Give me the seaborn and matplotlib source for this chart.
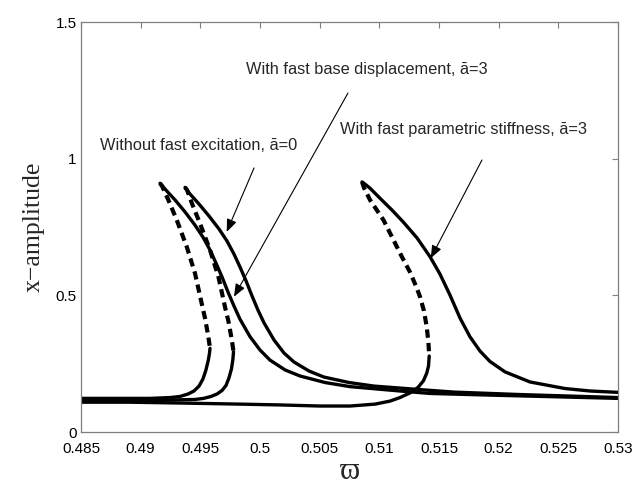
import matplotlib
matplotlib.use("Agg")
import matplotlib.pyplot as plt
import seaborn as sns
import pandas as pd

# ---------------- data ----------------
# Curve A (left response curve)
a_up_w = [0.49162, 0.49212, 0.49288, 0.49372, 0.49455, 0.49522, 0.49581, 0.49631, 0.49682,
          0.49732, 0.49782, 0.49832, 0.49916, 0.50000, 0.50084, 0.50210, 0.50335, 0.50545,
          0.50754, 0.51173, 0.51425, 0.52011, 0.52556, 0.53000]
a_up_x = [0.910, 0.885, 0.849, 0.805, 0.757, 0.713, 0.666, 0.618, 0.567,
          0.512, 0.461, 0.413, 0.349, 0.300, 0.263, 0.227, 0.205, 0.181,
          0.166, 0.150, 0.141, 0.134, 0.128, 0.123]
a_un_w = [0.49162, 0.49179, 0.49232, 0.49302, 0.49386, 0.49455, 0.49511, 0.49539, 0.49567, 0.49581]
a_un_x = [0.910, 0.900, 0.849, 0.776, 0.678, 0.581, 0.471, 0.417, 0.349, 0.306]
a_lo_w = [0.48500, 0.48827, 0.49078, 0.49246, 0.49330, 0.49397, 0.49447, 0.49489, 0.49522,
          0.49547, 0.49567, 0.49577, 0.49581]
a_lo_x = [0.123, 0.123, 0.123, 0.126, 0.130, 0.139, 0.150, 0.168, 0.194,
          0.227, 0.263, 0.289, 0.306]

# Curve B (middle response curve)
b_up_w = [0.49372, 0.49413, 0.49489, 0.49573, 0.49656, 0.49723, 0.49782, 0.49832, 0.49883,
          0.49933, 0.49983, 0.50034, 0.50117, 0.50201, 0.50285, 0.50411, 0.50536, 0.50746,
          0.50955, 0.51374, 0.51626, 0.52179, 0.52556, 0.53000]
b_up_x = [0.895, 0.871, 0.834, 0.790, 0.743, 0.699, 0.651, 0.604, 0.553,
          0.498, 0.446, 0.399, 0.337, 0.289, 0.256, 0.223, 0.201, 0.181,
          0.168, 0.154, 0.146, 0.137, 0.132, 0.126]
b_un_w = [0.49372, 0.49389, 0.49430, 0.49497, 0.49581, 0.49652, 0.49707, 0.49736, 0.49764, 0.49778]
b_un_x = [0.895, 0.885, 0.836, 0.763, 0.666, 0.567, 0.457, 0.404, 0.337, 0.294]
b_lo_w = [0.48500, 0.48911, 0.49246, 0.49455, 0.49527, 0.49589, 0.49640, 0.49682, 0.49715,
          0.49740, 0.49761, 0.49772, 0.49776, 0.49778]
b_lo_x = [0.116, 0.116, 0.117, 0.119, 0.123, 0.130, 0.139, 0.152, 0.170,
          0.198, 0.231, 0.263, 0.282, 0.294]

# Curve C (right response curve)
c_up_w = [0.50855, 0.50888, 0.50922, 0.51006, 0.51106, 0.51201, 0.51316, 0.51425, 0.51508,
          0.51592, 0.51676, 0.51760, 0.51844, 0.51927, 0.52053, 0.52263, 0.52556, 0.52766, 0.53000]
c_up_x = [0.915, 0.904, 0.892, 0.855, 0.812, 0.768, 0.710, 0.641, 0.578,
          0.501, 0.417, 0.348, 0.296, 0.258, 0.220, 0.183, 0.159, 0.150, 0.145]
c_un_w = [0.50855, 0.50872, 0.50922, 0.51034, 0.51118, 0.51190, 0.51257, 0.51307, 0.51341,
          0.51374, 0.51397, 0.51411, 0.51418]
c_un_x = [0.915, 0.893, 0.849, 0.776, 0.703, 0.640, 0.585, 0.534, 0.495,
          0.443, 0.385, 0.330, 0.278]
c_lo_w = [0.51418, 0.51412, 0.51397, 0.51369, 0.51324, 0.51257, 0.51173, 0.51089, 0.50964,
          0.50754, 0.50503, 0.50168, 0.49832, 0.49330, 0.48911, 0.48500]
c_lo_x = [0.278, 0.241, 0.215, 0.187, 0.163, 0.143, 0.126, 0.113, 0.102,
          0.095, 0.095, 0.099, 0.102, 0.106, 0.109, 0.109]

xticks = [0.485, 0.49, 0.495, 0.5, 0.505, 0.51, 0.515, 0.52, 0.525, 0.53]
xtick_labels = ["0.485", "0.49", "0.495", "0.5", "0.505", "0.51", "0.515", "0.52", "0.525", "0.53"]
yticks = [0, 0.5, 1, 1.5]
ytick_labels = ["0", "0.5", "1", "1.5"]

labels = ["With fast base displacement, ā=3",
          "With fast parametric stiffness, ā=3",
          "Without fast excitation, ā=0"]

# ---------------- drawing ----------------
sns.set_theme(style="white")
plt.rcParams['font.family'] = ['Liberation Sans', 'DejaVu Sans']

fig = plt.figure(figsize=(6.44, 4.88), dpi=100)
ax = fig.add_axes([81 / 644, (488 - 432) / 488, 537 / 644, 410 / 488])

solid_segs = [(a_up_w, a_up_x), (a_lo_w, a_lo_x),
              (b_up_w, b_up_x), (b_lo_w, b_lo_x),
              (c_up_w, c_up_x), (c_lo_w, c_lo_x)]
dash_segs = [(a_un_w, a_un_x), (b_un_w, b_un_x), (c_un_w, c_un_x)]

for w, x in solid_segs:
    df = pd.DataFrame({"w": w, "x": x})
    sns.lineplot(data=df, x="w", y="x", sort=False, estimator=None,
                 color="black", linewidth=2.4, ax=ax,
                 solid_joinstyle="round", solid_capstyle="round")
for w, x in dash_segs:
    df = pd.DataFrame({"w": w, "x": x})
    sns.lineplot(data=df, x="w", y="x", sort=False, estimator=None,
                 color="black", linewidth=3.0, linestyle=(0, (2.0, 1.25)), ax=ax)

ax.set_xlim(0.485, 0.53)
ax.set_ylim(0, 1.5)
ax.set_xticks(xticks)
ax.set_xticklabels(xtick_labels)
ax.set_yticks(yticks)
ax.set_yticklabels(ytick_labels)
ax.tick_params(direction="in", length=4, width=0.8, color="#7f7f7f",
               top=True, right=True, labelsize=11, labelcolor="black")
ax.tick_params(axis="x", pad=7)
ax.tick_params(axis="y", pad=3)
for sp in ax.spines.values():
    sp.set_color("#7f7f7f")
    sp.set_linewidth(0.9)
    sp.set_visible(True)

ax.set_ylabel("x−amplitude", fontsize=18.5,
              fontfamily=["Liberation Serif", "DejaVu Serif"])
ax.yaxis.set_label_coords(-0.067, 0.5)
ax.set_xlabel("ϖ", fontsize=22,
              fontfamily=["Liberation Serif", "DejaVu Serif"])
ax.xaxis.set_label_coords(0.5, -0.06)

ax.text(0.49883, 1.326, labels[0], ha="left", va="center", fontsize=11.8)
ax.text(0.50670, 1.105, labels[1], ha="left", va="center", fontsize=11.8)
ax.text(0.48659, 1.048, labels[2], ha="left", va="center", fontsize=11.8)

arrow = dict(arrowstyle="-|>,head_length=0.55,head_width=0.22", color="black",
             lw=0.8, mutation_scale=14, shrinkA=0, shrinkB=0)
ax.annotate("", xy=(0.49782, 0.495), xytext=(0.50737, 1.240), arrowprops=arrow)
ax.annotate("", xy=(0.49721, 0.732), xytext=(0.49950, 0.966), arrowprops=arrow)
ax.annotate("", xy=(0.51431, 0.636), xytext=(0.51860, 0.995), arrowprops=arrow)

fig.savefig("out.png", dpi=100, facecolor="white")
